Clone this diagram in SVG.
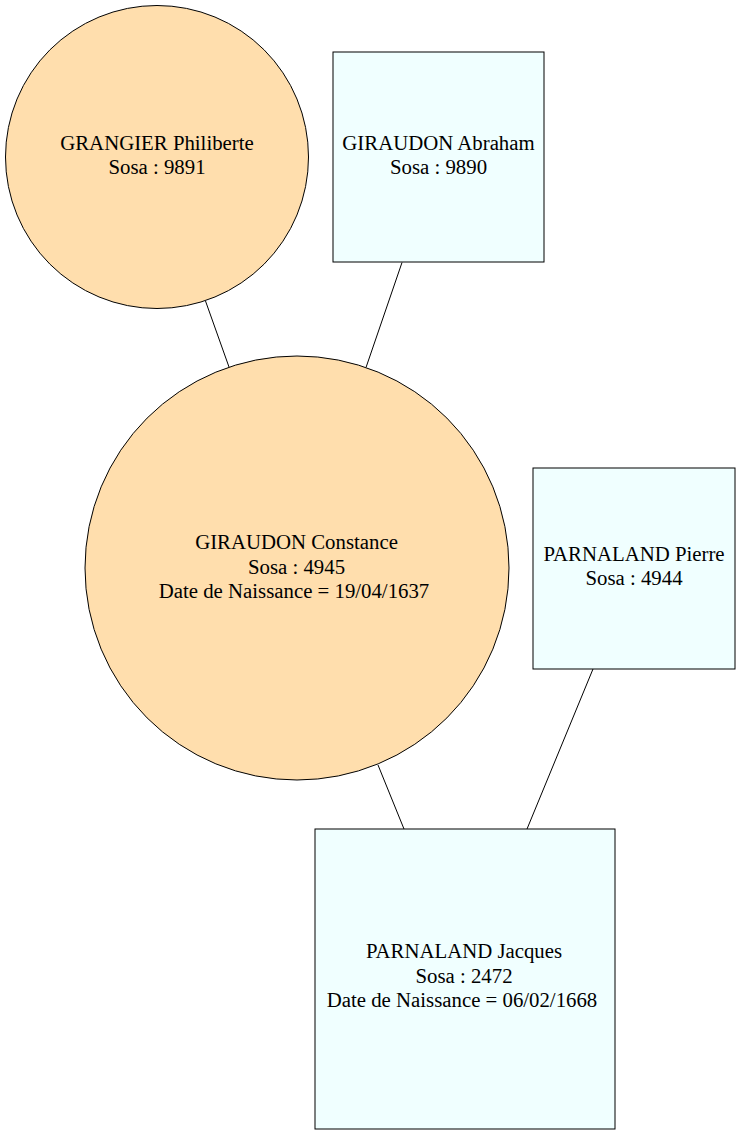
<svg xmlns="http://www.w3.org/2000/svg" width="741" height="1135" viewBox="0 0 741 1135">
<style>
.f{fill:#FFDEAD;stroke:#000;stroke-width:1}
.m{fill:#F0FFFF;stroke:#000;stroke-width:1}
.e{stroke:#000;stroke-width:1;fill:none}
.t{font-family:'Liberation Serif','Times New Roman',serif;font-size:20.8px;fill:#000;text-anchor:middle}
</style>
<rect width="741" height="1135" fill="#fff"/>
<g id="edges">
<line class="e" x1="205.5" y1="301" x2="229" y2="367"/>
<line class="e" x1="402" y1="262.5" x2="366" y2="367.5"/>
<line class="e" x1="378" y1="765" x2="404" y2="829"/>
<line class="e" x1="593" y1="669" x2="527" y2="829"/>
</g>
<g id="n9891">
<circle class="f" cx="157" cy="157" r="151.5"/>
<text class="t" x="157" y="150">GRANGIER Philiberte</text>
<text class="t" x="157" y="174">Sosa : 9891</text>
</g>
<g id="n9890">
<rect class="m" x="333" y="52" width="211" height="210"/>
<text class="t" x="438.5" y="150">GIRAUDON Abraham</text>
<text class="t" x="438.5" y="173.5">Sosa : 9890</text>
</g>
<g id="n4945">
<circle class="f" cx="297" cy="568" r="212"/>
<text class="t" x="296.5" y="549">GIRAUDON Constance</text>
<text class="t" x="296.5" y="573.5">Sosa : 4945</text>
<text class="t" x="294" y="598">Date de Naissance = 19/04/1637</text>
</g>
<g id="n4944">
<rect class="m" x="533" y="468" width="202" height="201"/>
<text class="t" x="634" y="561">PARNALAND Pierre</text>
<text class="t" x="634" y="585">Sosa : 4944</text>
</g>
<g id="n2472">
<rect class="m" x="315" y="829" width="300" height="300"/>
<text class="t" x="464" y="958">PARNALAND Jacques</text>
<text class="t" x="464" y="982.5">Sosa : 2472</text>
<text class="t" x="462" y="1007">Date de Naissance = 06/02/1668</text>
</g>
</svg>
